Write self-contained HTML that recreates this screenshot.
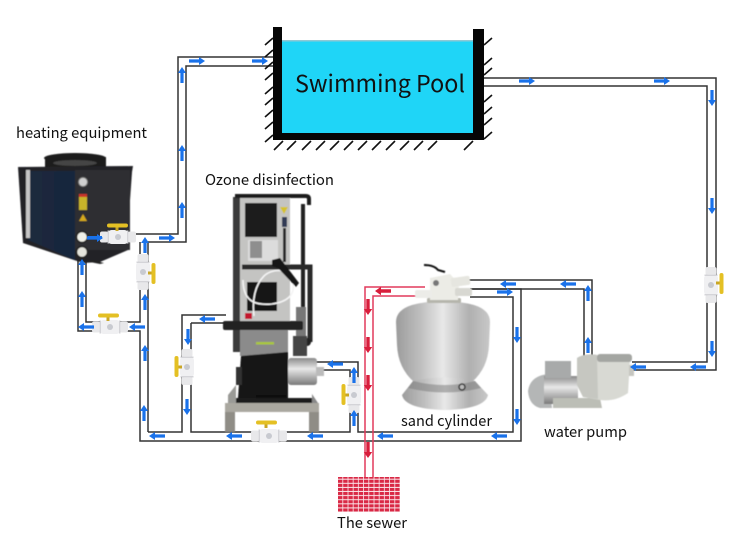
<!DOCTYPE html>
<html><head><meta charset="utf-8"><style>
html,body{margin:0;padding:0;background:#fff}
svg{display:block}
text{font-family:"Noto Sans CJK SC","Liberation Sans",sans-serif;fill:#111}
</style></head><body>
<svg width="750" height="537" viewBox="0 0 750 537" xmlns="http://www.w3.org/2000/svg">
<defs>
<path id="a" d="M-8-1.6H2V-4L8 0 2 4V1.6H-8Z" fill="#1a72ea"/>
<path id="r" d="M-8-1.7H2V-4.2L8 0 2 4.2V1.7H-8Z" fill="#d81e3c"/>
<linearGradient id="silver" x1="0" x2="1" y1="0" y2="0"><stop offset="0" stop-color="#9c9c9c"/><stop offset=".25" stop-color="#bdbdbd"/><stop offset=".5" stop-color="#e8e8e8"/><stop offset=".78" stop-color="#b0b0b0"/><stop offset="1" stop-color="#c8c8c8"/></linearGradient>
<linearGradient id="steel" x1="0" x2="0" y1="0" y2="1"><stop offset="0" stop-color="#8a8a8a"/><stop offset=".4" stop-color="#e8e8e8"/><stop offset="1" stop-color="#7a7a7a"/></linearGradient>
<linearGradient id="fin" x1="0" x2="1" y1="0" y2="0"><stop offset="0" stop-color="#1c2a3c"/><stop offset="1" stop-color="#18263e"/></linearGradient>
<pattern id="sew" width="5.2" height="4.1" patternUnits="userSpaceOnUse"><rect width="5.2" height="4.1" fill="#fbe6ea"/><rect width="4.4" height="3.1" fill="#d92845"/></pattern>
<filter id="soft"><feGaussianBlur stdDeviation=".5"/></filter>
<g id="v">
<rect x="-18" y="-5.5" width="8" height="11" rx="2" fill="#e8e8ea"/>
<rect x="10" y="-5.5" width="8" height="11" rx="2" fill="#e8e8ea"/>
<rect x="-11" y="-7" width="22" height="14" rx="4.5" fill="#f0f0f2"/>
<circle cx="0" cy="0" r="3" fill="#c8cad0"/>
<rect x="-10.5" y="-6.5" width="1.5" height="13" fill="#d4d4d8"/><rect x="9" y="-6.5" width="1.5" height="13" fill="#d4d4d8"/>
</g>
<g id="h"><rect x="-1.5" y="0" width="3" height="5" fill="#c9a625"/><rect x="-10" y="-2.5" width="21" height="4" rx="2" fill="#e4c024"/></g>
</defs>

<!-- pipes -->
<g fill="none" stroke="#333" stroke-width="1.5">
<path d="M130 234H178V57H273"/>
<path d="M148 432V242H186V66H273"/>
<path d="M140 242V322H86V258"/>
<path d="M78 258V331H140V441H521V289H470"/>
<path d="M148 432H182V315H226"/>
<path d="M191 323V432H350V370H322"/>
<path d="M191 323H226"/>
<path d="M316 362H358V432H513V297H470"/>
<path d="M468 280H592V356"/>
<path d="M470 289H584V356"/>
<path d="M484 78H716V370H632"/>
<path d="M484 86H707V362H632"/>
</g>
<g fill="none" stroke="#e23a5c" stroke-width="1.5">
<path d="M425 287H365V478"/>
<path d="M425 296H373V478"/>
</g>
<rect x="338" y="477" width="62" height="35" fill="url(#sew)"/>

<!-- pool -->
<g stroke="#111" stroke-width="1.6">
<path d="M265 45l8-7M265 57l8-7M265 69l8-7M265 80l8-7M265 94l8-7M265 105l8-7M265 117l8-7M265 129l8-7M265 142l8-7"/>
<path d="M484 45l8-7M484 65l8-7M484 75l8-7M484 102l8-7M484 114l8-7M484 125l8-7M484 139l8-7"/>
<path d="M274 150l9-9M287 150l9-9M302 150l9-9M316 150l9-9M330 150l9-9M344 150l9-9M358 150l9-9M372 150l9-9M386 150l9-9M400 150l9-9M414 150l9-9M428 150l9-9M464 150l9-9"/>
</g>
<rect x="281" y="41" width="194" height="93" fill="#1fd5f7"/>
<rect x="281" y="40" width="194" height="1.5" fill="#8fc8d4"/>
<path d="M273 27h9v106h191V29h11v111H273Z" fill="#060606"/>
<text x="295" y="92" font-size="23.5" textLength="170" lengthAdjust="spacingAndGlyphs">Swimming Pool</text>

<g filter="url(#soft)">
<!-- heat pump -->
<ellipse cx="75" cy="158" rx="31" ry="5" fill="#1a1a1a"/><rect x="45" y="157" width="61" height="11" fill="#1d1d1d"/>
<ellipse cx="75" cy="163" rx="22" ry="3" fill="#444"/>
<path d="M18 167L133 166 132 172 127 243 100 262 83 263 23 243Z" fill="#232326"/>
<path d="M27 171H75V260L28 240Z" fill="url(#fin)"/>
<rect x="75" y="170" width="55" height="80" fill="#2d2d30"/>
<path d="M75 250H128L100 262H83L75 260Z" fill="#232326"/>
<rect x="26" y="170" width="4" height="68" fill="#c6c6c6"/>
<circle cx="83" cy="182" r="4.5" fill="#cfcfcf" stroke="#777"/>
<rect x="79" y="194" width="8" height="16" fill="#c8b42c"/><rect x="79" y="194" width="8" height="3" fill="#c9342a"/>
<path d="M83 214l4 7h-8Z" fill="#d4a81d"/>
<circle cx="82" cy="237" r="5.5" fill="#f0f0e8" stroke="#222" stroke-width="1.5"/>
<circle cx="82" cy="252" r="5.5" fill="#e4e4dc" stroke="#222" stroke-width="1.5"/>
<path d="M92 260l12 3-4 1-10-2Z" fill="#222"/>

<!-- ozone machine -->
<rect x="238" y="197" width="52" height="132" fill="#c4c4c2"/>
<rect x="233" y="197" width="7" height="155" fill="#3a3a3a"/>
<path d="M235 196H306Q309 196 309 199V205" stroke="#1c1c1c" stroke-width="4" fill="none"/>
<rect x="301" y="204" width="4" height="118" fill="#222"/>
<rect x="245" y="203" width="32" height="34" fill="#1f1f1f"/>
<path d="M280 207h8l-4 7Z" fill="#d5c22e"/>
<rect x="282" y="217" width="5" height="10" fill="#303a55"/>
<rect x="248" y="240" width="30" height="21" fill="#dcdcdc"/><rect x="250" y="241" width="12" height="17" fill="#8e8e8e"/>
<rect x="283" y="228" width="3" height="34" fill="#2a2a2a"/>
<path d="M242 267H310V342" stroke="#2a2a2a" stroke-width="5" fill="none"/>
<rect x="247" y="282" width="30" height="29" fill="#151515"/>
<path d="M243 280C243 305 260 305 272 304 286 302 296 296 293 281 290 268 272 268 264 276 255 285 252 300 254 316" fill="none" stroke="#f4f4f4" stroke-width="1.6"/>
<path d="M272 260l8-2 19 25-3 4-18-19-6-2Z" fill="#141414"/>
<rect x="296" y="307" width="10" height="30" fill="#777"/>
<rect x="240" y="330" width="48" height="26" fill="#8b8b8b"/><rect x="256" y="342" width="18" height="2.5" fill="#a9c63c"/>
<rect x="223" y="321" width="80" height="9" rx="2" fill="#242424"/>
<rect x="245" y="313" width="7" height="6" fill="#c3192f"/>
<circle cx="307" cy="342" r="4" fill="#222"/>
<rect x="293" y="336" width="14" height="20" fill="#444"/>
<path d="M241 356L288 352V398H238Z" fill="#121212"/>
<rect x="236" y="367" width="6" height="18" fill="#333"/>
<rect x="288" y="358" width="29" height="27" rx="3" fill="url(#steel)"/>
<rect x="316" y="367" width="8" height="9" fill="#bbb"/>
<rect x="256" y="395" width="30" height="8" fill="#111"/>
<rect x="236" y="398" width="77" height="5" fill="#1a1a1a"/>
<path d="M228 395L236 385V403H228Z" fill="#9a9a96"/><path d="M312 394L318 403H312Z" fill="#888"/>
<rect x="225" y="403" width="94" height="9" fill="#aaa8a0"/>
<rect x="225" y="412" width="10" height="20" fill="#8f8d86"/><rect x="309" y="412" width="10" height="20" fill="#8f8d86"/>

<!-- sand cylinder -->
<path d="M396 322Q396 310 412 305Q443 297 474 305Q490 310 490 322L489 345Q488 368 472 382H414Q398 368 397 345Z" fill="url(#silver)"/>
<path d="M413 381Q445 374 475 381L488 395Q485 409 445 410 405 409 402 395Z" fill="url(#silver)"/>
<path d="M413 381Q445 389 475 381L481 388Q445 397 408 388Z" fill="#777" opacity=".5"/>
<circle cx="462" cy="387" r="3" fill="#bbb" stroke="#333" stroke-width="1.5"/>
<rect x="427" y="298" width="34" height="5" rx="1.5" fill="#b5b5ac"/>
<path d="M430 278L450 274 459 284 458 300H430Z" fill="#ecece6"/>
<rect x="415" y="290" width="17" height="8" rx="2" fill="#ecece8"/>
<rect x="451" y="277" width="19" height="9" rx="2" transform="rotate(-8 460 281)" fill="#e6e6e0"/>
<rect x="455" y="288" width="17" height="8" rx="2" fill="#d8d8d2"/>
<circle cx="436" cy="283" r="3" fill="#777"/>
<path d="M424 265Q434 265 438 270L445 272" fill="none" stroke="#111" stroke-width="2"/>

<!-- water pump -->
<path d="M548 374Q530 376 528 391 529 405 540 408H552Z" fill="#b4b6b6"/>
<rect x="544" y="376" width="34" height="28" fill="url(#steel)"/>
<rect x="545" y="361" width="26" height="17" fill="#a8aaaa"/>
<path d="M553 398H600L602 408H553Z" fill="#bcbeb6"/>
<path d="M577 358Q585 353 598 355L630 360 628 393Q615 402 600 400L583 397 577 385Z" fill="#d8d9d3"/>
<path d="M577 358Q585 353 597 355L598 399 583 397 577 385Z" fill="#c6c7c1"/>
<rect x="597" y="354" width="35" height="8" rx="3" fill="#a4a6a2"/>
<rect x="629" y="365" width="5" height="11" fill="#c6c6c0"/>
</g>

<!-- valves -->
<use href="#v" transform="translate(118 237)"/>
<g transform="translate(117 226)"><use href="#h"/></g>
<rect x="88" y="236" width="14" height="3" fill="#1a72ea"/>
<use href="#v" transform="translate(143 272) rotate(90)"/>
<g transform="translate(153 273) rotate(90)"><use href="#h"/></g>
<use href="#v" transform="translate(110 327)"/>
<g transform="translate(108 316)"><use href="#h"/></g>
<use href="#v" transform="translate(187 367) rotate(90)"/>
<g transform="translate(177 367) rotate(-90)"><use href="#h"/></g>
<use href="#v" transform="translate(354 395) rotate(90)"/>
<g transform="translate(344 395) rotate(-90)"><use href="#h"/></g>
<use href="#v" transform="translate(269 436)"/>
<g transform="translate(266 423)"><use href="#h"/></g>
<use href="#v" transform="translate(711 285) rotate(90)"/>
<g transform="translate(721 283) rotate(90)"><use href="#h"/></g>

<!-- blue arrows -->
<use href="#a" transform="translate(197 61)"/>
<use href="#a" transform="translate(260 61)"/>
<use href="#a" transform="translate(182 75) rotate(-90)"/>
<use href="#a" transform="translate(182 153) rotate(-90)"/>
<use href="#a" transform="translate(182 210) rotate(-90)"/>
<use href="#a" transform="translate(167 238)"/>
<use href="#a" transform="translate(95 238)"/>
<use href="#a" transform="translate(145 245) rotate(-90)"/>
<use href="#a" transform="translate(145 302) rotate(-90)"/>
<use href="#a" transform="translate(145 353) rotate(-90)"/>
<use href="#a" transform="translate(144 413) rotate(-90)"/>
<use href="#a" transform="translate(137 327) rotate(180)"/>
<use href="#a" transform="translate(86 327) rotate(180)"/>
<use href="#a" transform="translate(82 267) rotate(-90)"/>
<use href="#a" transform="translate(82 299) rotate(-90)"/>
<use href="#a" transform="translate(157 436) rotate(180)"/>
<use href="#a" transform="translate(234 436) rotate(180)"/>
<use href="#a" transform="translate(315 436) rotate(180)"/>
<use href="#a" transform="translate(385 436) rotate(180)"/>
<use href="#a" transform="translate(499 436) rotate(180)"/>
<use href="#a" transform="translate(517 335) rotate(90)"/>
<use href="#a" transform="translate(517 417) rotate(90)"/>
<use href="#a" transform="translate(508 284) rotate(180)"/>
<use href="#a" transform="translate(568 284) rotate(180)"/>
<use href="#a" transform="translate(505 292)"/>
<use href="#a" transform="translate(588 293) rotate(-90)"/>
<use href="#a" transform="translate(588 345) rotate(-90)"/>
<use href="#a" transform="translate(207 319) rotate(180)"/>
<use href="#a" transform="translate(188 337) rotate(90)"/>
<use href="#a" transform="translate(187 407) rotate(90)"/>
<use href="#a" transform="translate(354 375) rotate(-90)"/>
<use href="#a" transform="translate(354 418) rotate(-90)"/>
<use href="#a" transform="translate(335 364) rotate(180)"/>
<use href="#a" transform="translate(527 81)"/>
<use href="#a" transform="translate(662 81)"/>
<use href="#a" transform="translate(712 98) rotate(90)"/>
<use href="#a" transform="translate(712 206) rotate(90)"/>
<use href="#a" transform="translate(712 349) rotate(90)"/>
<use href="#a" transform="translate(698 367) rotate(180)"/>
<use href="#a" transform="translate(638 367) rotate(180)"/>

<!-- red arrows -->
<use href="#r" transform="translate(383 291) rotate(180)"/>
<use href="#r" transform="translate(368 307) rotate(90)"/>
<use href="#r" transform="translate(368 345) rotate(90)"/>
<use href="#r" transform="translate(368 383) rotate(90)"/>
<use href="#r" transform="translate(368 450) rotate(90)"/>

<!-- labels -->
<text x="16" y="138" font-size="15" textLength="131" lengthAdjust="spacingAndGlyphs">heating equipment</text>
<text x="205" y="185" font-size="15" textLength="129" lengthAdjust="spacingAndGlyphs">Ozone disinfection</text>
<text x="401" y="426" font-size="15" textLength="91" lengthAdjust="spacingAndGlyphs">sand cylinder</text>
<text x="544" y="437" font-size="15" textLength="83" lengthAdjust="spacingAndGlyphs">water pump</text>
<text x="337" y="528" font-size="15" textLength="70" lengthAdjust="spacingAndGlyphs">The sewer</text>
</svg>
</body></html>
